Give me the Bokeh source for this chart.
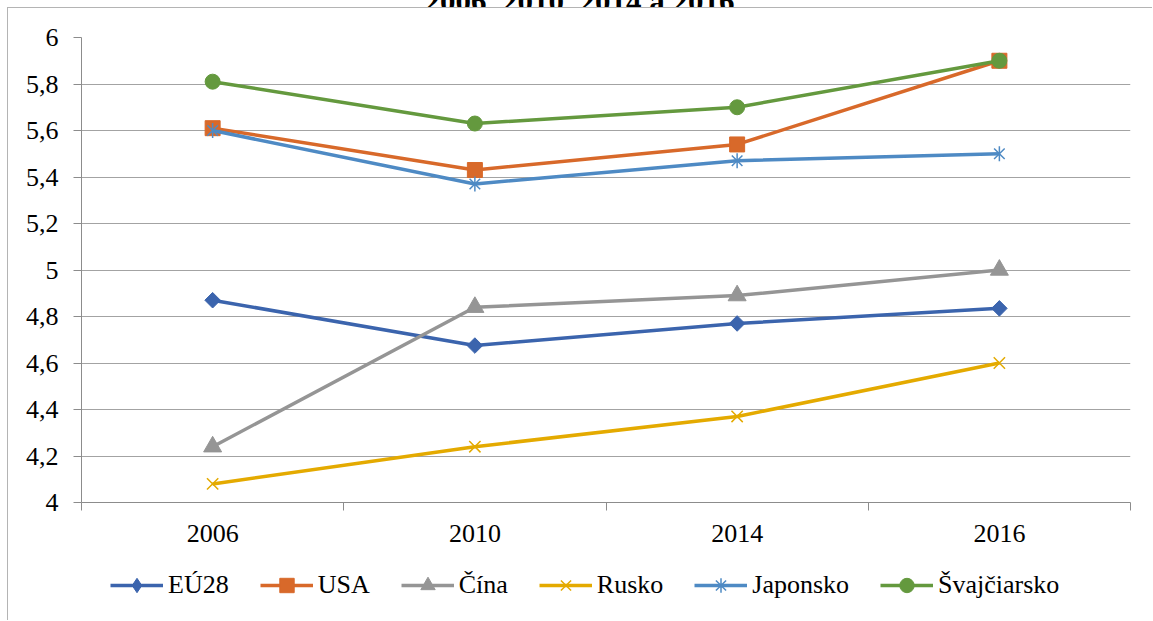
from bokeh.plotting import figure
from bokeh.models import FixedTicker, CustomJSTickFormatter, Legend, LegendItem, Range1d, Div
from bokeh.embed import file_html
from bokeh.resources import INLINE

# ---- data ----
title_text = "2006, 2010, 2014 a 2016"
years = ["2006", "2010", "2014", "2016"]
eu28 = [4.87, 4.675, 4.77, 4.835]
usa = [5.61, 5.43, 5.54, 5.90]
cina = [4.24, 4.84, 4.89, 5.00]
rusko = [4.08, 4.24, 4.37, 4.60]
japonsko = [5.60, 5.37, 5.47, 5.50]
svajciarsko = [5.81, 5.63, 5.70, 5.90]
y_ticks = [4.0, 4.2, 4.4, 4.6, 4.8, 5.0, 5.2, 5.4, 5.6, 5.8, 6.0]

FONT = "Liberation Serif, Times New Roman, serif"
FS = "26px"
BORDER = "1px solid #b4b4b4"
x = [i + 0.5 for i in range(len(years))]

title = Div(text=('<div style="margin-top:-24px; width:1153px; text-align:center; padding-left:6px; '
                  'font-family:\'Liberation Serif\', \'Times New Roman\', serif; font-weight:bold; font-size:31px; '
                  'line-height:31px; color:black; white-space:nowrap;">%s</div>' % title_text),
            width=1153, height=7, margin=0, styles={"overflow": "hidden"})

p = figure(width=1145, height=613, x_range=Range1d(0, len(years)), y_range=Range1d(4, 6),
           output_backend="svg", toolbar_location=None,
           min_border_left=73, min_border_right=23, min_border_top=29, min_border_bottom=119,
           styles={"margin-left": "7px", "border-left": BORDER, "border-top": BORDER})
p.outline_line_color = None
p.background_fill_color = "white"
p.border_fill_color = "white"

AX = "#8c8c8c"
# x axis
p.xaxis.ticker = FixedTicker(ticks=x, minor_ticks=list(range(len(years) + 1)))
p.xaxis.formatter = CustomJSTickFormatter(args=dict(years=years), code="return years[Math.floor(tick)];")
p.xaxis.major_tick_out = 0
p.xaxis.major_tick_in = 0
p.xaxis.minor_tick_out = 8
p.xaxis.minor_tick_in = 0
p.xaxis.minor_tick_line_color = AX
p.xaxis.axis_line_color = AX
p.xaxis.major_label_standoff = 14
p.xgrid.visible = False
# y axis
p.yaxis.ticker = FixedTicker(ticks=y_ticks)
p.yaxis.formatter = CustomJSTickFormatter(code="var s = tick.toFixed(1); if (s.endsWith('.0')) s = s.slice(0, -2); return s.replace('.', ',');")
p.yaxis.major_tick_out = 8
p.yaxis.major_tick_in = 0
p.yaxis.minor_tick_line_color = None
p.yaxis.major_tick_line_color = AX
p.yaxis.axis_line_color = AX
p.yaxis.major_label_standoff = 15
p.ygrid.grid_line_color = "#a3a3a3"
p.ygrid.grid_line_width = 1

for ax in (p.xaxis, p.yaxis):
    ax.major_label_text_font = FONT
    ax.major_label_text_font_size = FS
    ax.major_label_text_color = "black"

# legend lives in a strip figure overlapping the bottom of the chart
lg = figure(width=1145, height=50, x_range=Range1d(0, 1), y_range=Range1d(0, 1),
            output_backend="svg", toolbar_location=None, min_border=0,
            x_axis_location=None, y_axis_location=None,
            styles={"margin-left": "7px", "margin-top": "-60px", "border-left": BORDER})
lg.grid.visible = False
lg.outline_line_color = None
lg.background_fill_alpha = 0
lg.border_fill_alpha = 0

LW = 3.5
items = []

def add(name, vals, color, markers, legend_markers=None):
    for fig in (p, lg):
        ms = legend_markers if (fig is lg and legend_markers) else markers
        rs = [fig.line(x, vals, line_color=color, line_width=LW)]
        for m in ms:
            rs.append(fig.scatter(x, vals, **m, color=color))
        if fig is lg:
            for r in rs:
                r.visible = False
            items.append(LegendItem(label=name, renderers=rs))

add("EÚ28", eu28, "#3B64AD", [dict(marker="square", size=11, angle=0.785398)],
    [dict(marker="diamond", size=18)])
add("USA", usa, "#D8692A", [dict(marker="square", size=15)])
add("Čína", cina, "#959595", [dict(marker="triangle", size=18)])
add("Rusko", rusko, "#E4AA00", [dict(marker="x", size=16, line_width=1.5)])
add("Japonsko", japonsko, "#4E8AC4", [dict(marker="x", size=15, line_width=1.5),
                                         dict(marker="dash", size=15, angle=1.570796, line_width=1.5)],
    [dict(marker="asterisk", size=15, line_width=1.5)])
add("Švajčiarsko", svajciarsko, "#64993E", [dict(marker="circle", size=15)])

legend = Legend(items=items, orientation="horizontal", location=(102, 7),
                glyph_width=53, glyph_height=36, label_standoff=5, spacing=31,
                padding=0, margin=0, border_line_color=None, background_fill_alpha=0,
                label_text_font=FONT, label_text_font_size=FS, label_text_color="black")
lg.add_layout(legend, "center")

open("out.html", "w").write(file_html([title, p, lg], INLINE))
